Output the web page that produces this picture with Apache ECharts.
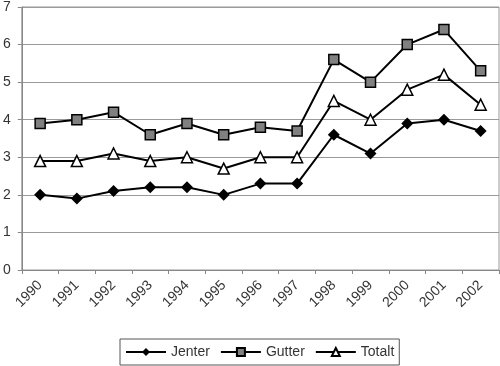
<!DOCTYPE html>
<html><head><meta charset="utf-8">
<script src="https://cdn.jsdelivr.net/npm/echarts@6/dist/echarts.min.js"></script>
<style>html,body{margin:0;padding:0;background:#fff}#c{width:500px;height:366px}</style>
</head><body><div id="c"></div>
<script>
var years = ['1990','1991','1992','1993','1994','1995','1996','1997','1998','1999','2000','2001','2002'];
var jenter = [2.0, 1.9, 2.1, 2.2, 2.2, 2.0, 2.3, 2.3, 3.6, 3.1, 3.9, 4.0, 3.7];
var gutter = [3.9, 4.0, 4.2, 3.6, 3.9, 3.6, 3.8, 3.7, 5.6, 5.0, 6.0, 6.4, 5.3];
var totalt = [2.9, 2.9, 3.1, 2.9, 3.0, 2.7, 3.0, 3.0, 4.5, 4.0, 4.8, 5.2, 4.4];

var chart = echarts.init(document.getElementById('c'));
var font = 'Liberation Sans, Arial, sans-serif';
function ser(name, data, symbol, size, fill) {
  return {
    name: name, type: 'line', data: data, symbol: symbol, symbolSize: size,
    lineStyle: {color: '#000', width: 2},
    itemStyle: {color: fill, borderColor: '#000', borderWidth: symbol === 'diamond' ? 0 : 1.5},
    animation: false
  };
}
chart.setOption({
  animation: false,
  textStyle: {fontFamily: font},
  grid: {left: 21, right: 1, top: 6, bottom: 96, show: true, borderColor: '#999', borderWidth: 1},
  xAxis: {
    type: 'category', data: years, boundaryGap: true,
    axisLine: {lineStyle: {color: '#888'}},
    axisTick: {show: true, lineStyle: {color: '#888'}, length: 4},
    axisLabel: {rotate: 45, color: '#333', fontSize: 14, fontFamily: font, margin: 13}
  },
  yAxis: {
    type: 'value', min: 0, max: 7, interval: 1,
    axisLine: {show: true, lineStyle: {color: '#888'}},
    axisTick: {show: true, length: 4, lineStyle: {color: '#888'}},
    splitLine: {lineStyle: {color: '#999', width: 1}},
    axisLabel: {color: '#333', fontSize: 14, fontFamily: font, margin: 11}
  },
  legend: {
    bottom: 1, left: 120,
    data: ['Jenter', 'Gutter', 'Totalt'],
    itemWidth: 40, itemHeight: 10, itemGap: 10,
    padding: [6, 5, 6, 5],
    borderColor: '#555', borderWidth: 1,
    textStyle: {color: '#333', fontSize: 14, fontFamily: font, lineHeight: 13}
  },
  series: [
    ser('Jenter', jenter, 'diamond', 12, '#000'),
    ser('Gutter', gutter, 'rect', 10, '#808080'),
    ser('Totalt', totalt, 'triangle', 11, '#fff')
  ]
});
</script></body></html>
